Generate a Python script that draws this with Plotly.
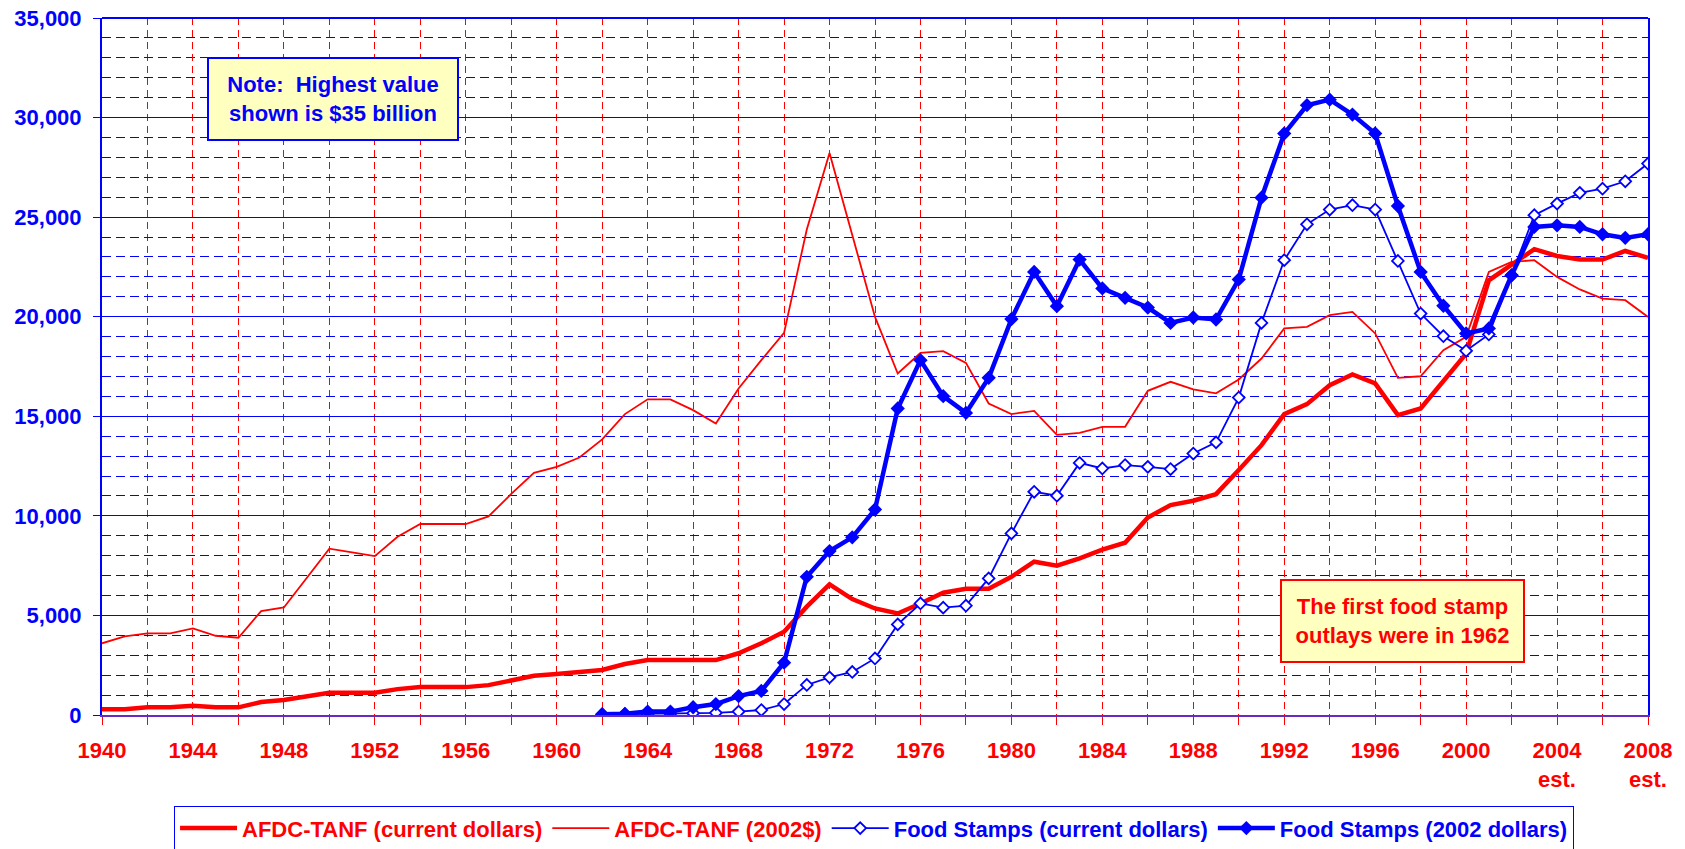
import plotly.graph_objects as go

years = list(range(1940, 2009))
fs_years = list(range(1962, 2009))

afdc_current = [290, 290, 385, 385, 470, 385, 385, 650, 750, 920,
                1120, 1120, 1120, 1300, 1400, 1400, 1400, 1500, 1760, 1970,
                2060, 2160, 2260, 2560, 2760, 2760, 2760, 2760, 3100, 3600,
                4180, 5440, 6560, 5820, 5350, 5100, 5600, 6140, 6340, 6340,
                6940, 7700, 7500, 7860, 8300, 8650, 9920, 10540, 10760, 11090,
                12300, 13550, 15110, 15610, 16560, 17100, 16650, 15060, 15390, 16750,
                18150, 21830, 22590, 23390, 23050, 22870, 22870, 23300, 22950]

afdc_2002 = [3600, 3950, 4100, 4100, 4350, 3980, 3880, 5220, 5400, 6850,
             8350, 8170, 7980, 8950, 9590, 9590, 9590, 9970, 11100, 12160,
             12460, 12930, 13840, 15110, 15850, 15850, 15310, 14640, 16400, 17820,
             19190, 24380, 28220, 24100, 19990, 17150, 18180, 18270, 17680, 15640,
             15110, 15270, 14070, 14170, 14470, 14470, 16280, 16730, 16350, 16150,
             16850, 17900, 19410, 19490, 20080, 20240, 19160, 16930, 17010, 18320,
             18990, 22250, 22750, 22840, 22000, 21370, 20910, 20830, 19990]

fs_current = [30, 40, 50, 60, 90, 110, 170, 250, 550, 1510,
              1890, 2160, 2840, 4550, 5600, 5390, 5490, 6860, 9120, 11210,
              11010, 12660, 12380, 12550, 12460, 12350, 13130, 13690, 15940, 19690,
              22840, 24640, 25380, 25600, 25380, 22800, 20160, 19020, 18290, 19110,
              22080, 25100, 25680, 26220, 26430, 26800, 27690]

fs_2002 = [40, 60, 170, 170, 390, 550, 950, 1210, 2630, 6940,
           8230, 8920, 10320, 15390, 17820, 16010, 15170, 16930, 19880, 22250,
           20530, 22870, 21420, 20950, 20460, 19690, 19960, 19860, 21870, 25980,
           29200, 30620, 30900, 30150, 29200, 25560, 22250, 20550, 19160, 19410,
           22080, 24510, 24590, 24510, 24140, 23960, 24140]

x_tickvals = [1940, 1944, 1948, 1952, 1956, 1960, 1964, 1968, 1972, 1976,
              1980, 1984, 1988, 1992, 1996, 2000, 2004, 2008]
x_ticktext = [str(v) for v in x_tickvals]
est_years = [2004, 2008]

series_names = ["AFDC-TANF (current dollars)", "AFDC-TANF (2002$)",
                "Food Stamps (current dollars)", "Food Stamps (2002 dollars)"]

RED = "#FF0000"
BLUE = "#0000FF"
FONT = "Liberation Sans, Arial, sans-serif"

fig = go.Figure()
fig.add_trace(go.Scatter(x=years, y=afdc_current, mode="lines",
                         name=f"<span style='color:{RED}'>{series_names[0]}</span>",
                         line=dict(color=RED, width=4.5)))
fig.add_trace(go.Scatter(x=years, y=afdc_2002, mode="lines",
                         name=f"<span style='color:{RED}'>{series_names[1]}</span>",
                         line=dict(color=RED, width=1.8)))
fig.add_trace(go.Scatter(x=fs_years, y=fs_current, mode="lines+markers",
                         name=f"<span style='color:{BLUE}'>{series_names[2]}</span>",
                         line=dict(color=BLUE, width=1.8),
                         marker=dict(symbol="diamond", size=9, color="white",
                                     line=dict(color=BLUE, width=1.8))))
fig.add_trace(go.Scatter(x=fs_years, y=fs_2002, mode="lines+markers",
                         name=f"<span style='color:{BLUE}'>{series_names[3]}</span>",
                         line=dict(color=BLUE, width=4.5),
                         marker=dict(symbol="diamond", size=11, color=BLUE)))

fig.update_layout(
    width=1685, height=849,
    margin=dict(l=102, r=37, t=18, b=134, autoexpand=False),
    paper_bgcolor="white", plot_bgcolor="white",
    font=dict(family=FONT, size=22, weight="bold"),
    showlegend=True,
    legend=dict(orientation="h", x=0.0466, xanchor="left", y=-0.131, yanchor="top",
                bordercolor=BLUE, borderwidth=1, bgcolor="white",
                font=dict(family=FONT, size=22, weight="bold"),
                itemwidth=57, itemsizing="trace"),
    xaxis=dict(range=[1940, 2008], tickmode="array", tickvals=x_tickvals, ticktext=x_ticktext,
               tickfont=dict(family=FONT, size=22, color=RED, weight="bold"),
               ticks="outside", ticklen=8, tickcolor=RED, tickwidth=1,
               ticklabelstandoff=7, automargin=False,
               showgrid=True, gridcolor=RED, gridwidth=1, griddash="7px,5px",
               minor=dict(dtick=2, tick0=1940, ticks="outside", ticklen=8, tickcolor=RED,
                          showgrid=True, gridcolor=RED, gridwidth=1, griddash="7px,5px"),
               showline=True, linecolor="#6A2AC0", linewidth=2, mirror=False,
               zeroline=False),
    yaxis=dict(range=[0, 35000], dtick=5000, tick0=0, tickformat=",",
               tickfont=dict(family=FONT, size=22, color=BLUE, weight="bold"),
               ticks="outside", ticklen=7, tickcolor=BLUE, tickwidth=1,
               ticklabelstandoff=7, automargin=False,
               showgrid=True, gridcolor=BLUE, gridwidth=1,
               minor=dict(dtick=1000, showgrid=True, gridcolor=BLUE, gridwidth=1,
                          griddash="9px,5px", ticks=""),
               showline=True, linecolor=BLUE, linewidth=2, mirror=True,
               zeroline=False),
    shapes=[dict(type="line", xref="paper", yref="paper", x0=0, x1=1, y0=1, y1=1,
                 line=dict(color=BLUE, width=2))],
)

annotations = [
    dict(text="Note:  Highest value<br>shown is $35 billion", xref="paper", yref="paper",
         x=0.1492, y=0.8831, xanchor="center", yanchor="middle", showarrow=False,
         font=dict(family=FONT, size=22, color=BLUE, weight="bold"),
         bgcolor="#FFFFC0", bordercolor=BLUE, borderwidth=2, borderpad=0,
         width=248, height=80, align="center"),
    dict(text="The first food stamp<br>outlays were in 1962", xref="paper", yref="paper",
         x=0.8414, y=0.1352, xanchor="center", yanchor="middle", showarrow=False,
         font=dict(family=FONT, size=22, color=RED, weight="bold"),
         bgcolor="#FFFFC0", bordercolor=RED, borderwidth=2, borderpad=0,
         width=241, height=80, align="center"),
]
for yr in est_years:
    annotations.append(dict(text="est.", xref="x", yref="paper", x=yr, y=0,
                            yshift=-64, xanchor="center", yanchor="middle", showarrow=False,
                            font=dict(family=FONT, size=22, color=RED, weight="bold")))
fig.update_layout(annotations=annotations)

fig.write_html("out.html", config={"displayModeBar": False},
               post_script="document.body.style.margin='0';document.body.style.overflow='hidden';")
